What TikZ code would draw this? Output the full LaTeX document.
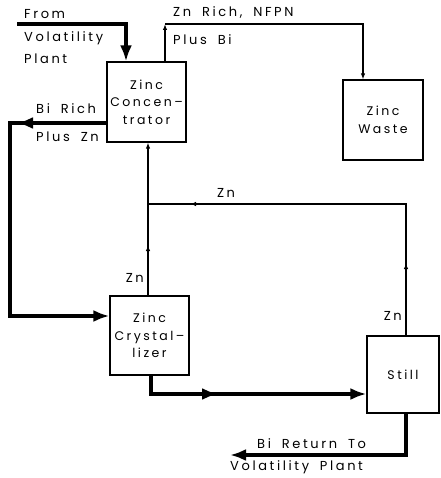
\documentclass[tikz,border=0pt]{standalone}
\usepackage{fontspec}
\setmainfont[LetterSpace=20, WordSpace=1.8]{Poppins}
\usetikzlibrary{arrows.meta}

\begin{document}
\begin{tikzpicture}[x=1pt, y=-1pt,
                unit/.style={draw, line width=1.2pt, align=center, inner sep=0pt, font=\fontsize{12.5}{17.5}\selectfont},
                lbl/.style={inner sep=0pt, font=\fontsize{13}{22}\selectfont},
                thinflow/.style={line width=1.2pt},
                thickflow/.style={line width=3.6pt},
                bigtip/.style={-{Latex[length=16pt, width=12pt]}},
                smalltip/.style={-{Latex[length=6pt, width=4.5pt]}}
            ]
                \useasboundingbox (0,0) rectangle (440,478);

                % Units
                \node[unit, minimum width=79pt, minimum height=80pt] (conc) at (146.5,102) {Zinc\\Concen--\\trator};
                \node[unit, minimum width=80pt, minimum height=80pt] (waste) at (383,120) {Zinc\\Waste};
                \node[unit, minimum width=79pt, minimum height=79pt] (cryst) at (149.5,335.5) {Zinc\\Crystal--\\lizer};
                \node[unit, minimum width=72pt, minimum height=77pt] (still) at (403,374.5) {Still};

                % Bend points
                \coordinate (src) at (17,24);
                \coordinate (zntop) at (165,24);
                \coordinate (birtip) at (17,123);
                \coordinate (bl) at (10,123);
                \coordinate (j) at (148,204);
                \coordinate (jr) at (406,204);
                \coordinate (m1) at (148,245);
                \coordinate (m2) at (406,263);
                \coordinate (m3) at (190,204);
                \coordinate (cb) at (151,394);
                \coordinate (m4) at (218,394);
                \coordinate (ret) at (230,455);

                % Feed and Zn rich stream
                \draw[thickflow, bigtip] (src) -| ([xshift=-20.5pt]conc.north);
                \draw[thinflow, smalltip] ([xshift=18.5pt]conc.north) -- (zntop);
                \draw[thinflow, smalltip] (zntop) -| ([xshift=-20pt]waste.north);

                % Bi rich recycle
                \draw[thickflow, bigtip] ([yshift=-21pt]conc.west) -- (birtip);
                \draw[thickflow, bigtip] ([yshift=-21pt]conc.west) -- (bl) |- ([yshift=19.5pt]cryst.west);

                % Zn streams
                \draw[thinflow] (cryst.north -| j) -- (j);
                \draw[thinflow, smalltip] (cryst.north -| j) -- (m1);
                \draw[thinflow, smalltip] (j) -- (conc.south -| j);
                \draw[thinflow] (still.north -| jr) |- (j);
                \draw[thinflow, smalltip] (still.north -| jr) -- (m2);
                \draw[thinflow, smalltip] (still.north -| jr) |- (m3);

                % Bi streams
                \draw[thickflow, bigtip] (cryst.south -| cb) |- (still.west |- cb);
                \draw[thickflow, bigtip] (cryst.south -| cb) |- (m4);
                \draw[thickflow, bigtip] (still.south -| jr) |- (ret);

                % Labels
                \node[lbl, anchor=west] (lfrom) at (24,14) {From};
                \node[lbl, anchor=north west, align=left] (lvol) at (24,31) {Volatility\\Plant};
                \node[lbl, anchor=west] (lznrich) at (173,12) {Zn Rich, NFPN};
                \node[lbl, anchor=west] (lplusbi) at (173,40) {Plus Bi};
                \node[lbl, anchor=west] (lbirich) at (36,109) {Bi Rich};
                \node[lbl, anchor=west] (lpluszn) at (36,137) {Plus Zn};
                \node[lbl] (lzn1) at (226,193) {Zn};
                \node[lbl, anchor=east] (lzn2) at (144,278) {Zn};
                \node[lbl, anchor=east] (lzn3) at (402,316) {Zn};
                \node[lbl, anchor=west] (lret) at (257,444) {Bi Return To};
                \node[lbl, anchor=west] (lretvol) at (230,467) {Volatility Plant};
            \end{tikzpicture}
\end{document}
